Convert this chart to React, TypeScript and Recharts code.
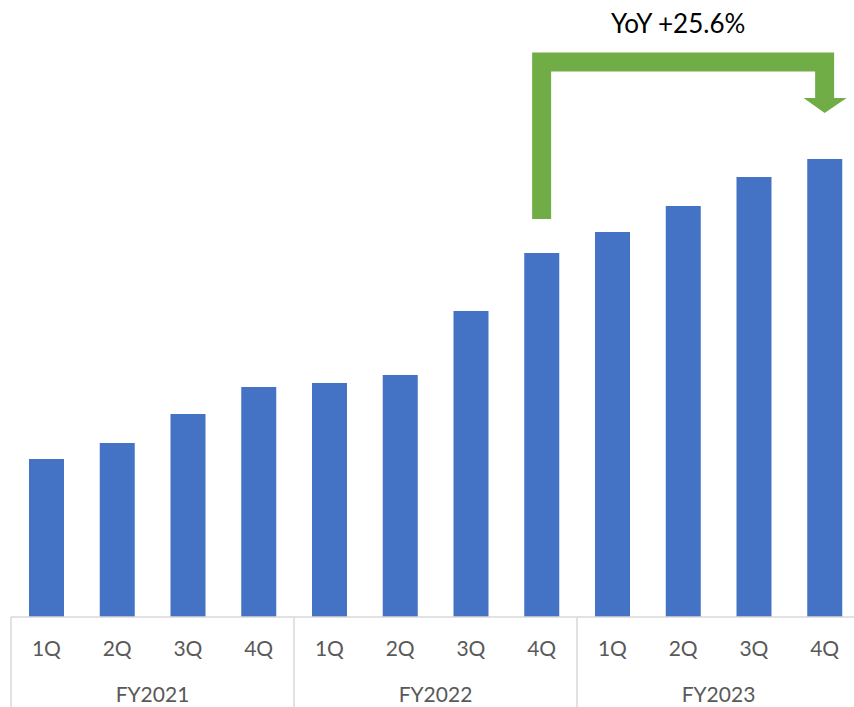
import React from "react";
import { Bar, BarChart, ReferenceLine, XAxis, YAxis } from "recharts";

const fiscalYears = ["FY2021", "FY2022", "FY2023"];
const quarters = ["1Q", "2Q", "3Q", "4Q"];
const revenue = [158, 174, 203, 230, 234, 242, 306, 364, 385, 411, 440, 458];
const yoyLabel = "YoY +25.6%";

const data = fiscalYears.flatMap((fy, i) =>
  quarters.map((q, j) => ({ key: `${fy}-${q}`, fy, q, value: revenue[i * 4 + j] }))
);

const FONT = "Lato, 'Noto Sans', sans-serif";
const GREEN = "#70AD47";

function QuarterTick(props: any) {
  const { x, y, payload, index } = props;
  const half = payload?.offset ?? 35.4;
  const row = data[index];
  return (
    <g>
      <text x={x} y={y + 39} textAnchor="middle" fill="#595959" fontSize={21} fontFamily={FONT}>
        {row?.q}
      </text>
      {index % 4 === 1 && (
        <text x={x + half} y={y + 85} textAnchor="middle" fill="#595959" fontSize={21} fontFamily={FONT}>
          {row?.fy}
        </text>
      )}
      {index % 4 === 0 && (
        <line x1={x - half} x2={x - half} y1={y} y2={y + 90} stroke="#D9D9D9" strokeWidth={1.5} />
      )}
      {index === data.length - 1 && (
        <line x1={x + half} x2={x + half} y1={y} y2={y + 90} stroke="#D9D9D9" strokeWidth={1.5} />
      )}
    </g>
  );
}

function YoyArrow(props: any) {
  const { x1, y1, x2, y2 } = props;
  return (
    <g>
      <path
        d={`M${x1},${y1} L${x1},${y2} L${x2},${y2} L${x2},${y2 + 36}`}
        fill="none"
        stroke={GREEN}
        strokeWidth={19}
        strokeLinejoin="miter"
      />
      <polygon points={`${x2 - 21},${y2 + 36} ${x2 + 22},${y2 + 36} ${x2},${y2 + 51}`} fill={GREEN} />
      <text
        x={(x1 + x2) / 2 - 5}
        y={y2 - 29}
        textAnchor="middle"
        fill="#000"
        fontSize={26}
        fontFamily={FONT}
      >
        {yoyLabel}
      </text>
    </g>
  );
}

export default function App() {
  return (
    <div style={{ position: "fixed", left: 0, top: 0, width: 854, height: 707, overflow: "hidden", background: "#fff" }}>
      <BarChart width={862} height={707} data={data} margin={{ top: 17, right: 2, left: 11, bottom: 0 }}>
        <XAxis
          dataKey="key"
          height={90}
          axisLine={{ stroke: "#D9D9D9", strokeWidth: 1.5 }}
          tickLine={false}
          tickSize={0}
          tickMargin={0}
          interval={0}
          tick={<QuarterTick />}
        />
        <YAxis hide domain={[0, 600]} />
        <Bar dataKey="value" fill="#4472C4" barSize={35} isAnimationActive={false} />
        <ReferenceLine
          ifOverflow="visible"
          segment={[
            { x: "FY2022-4Q", y: 398 },
            { x: "FY2023-4Q", y: 555 },
          ]}
          shape={<YoyArrow />}
        />
      </BarChart>
    </div>
  );
}
